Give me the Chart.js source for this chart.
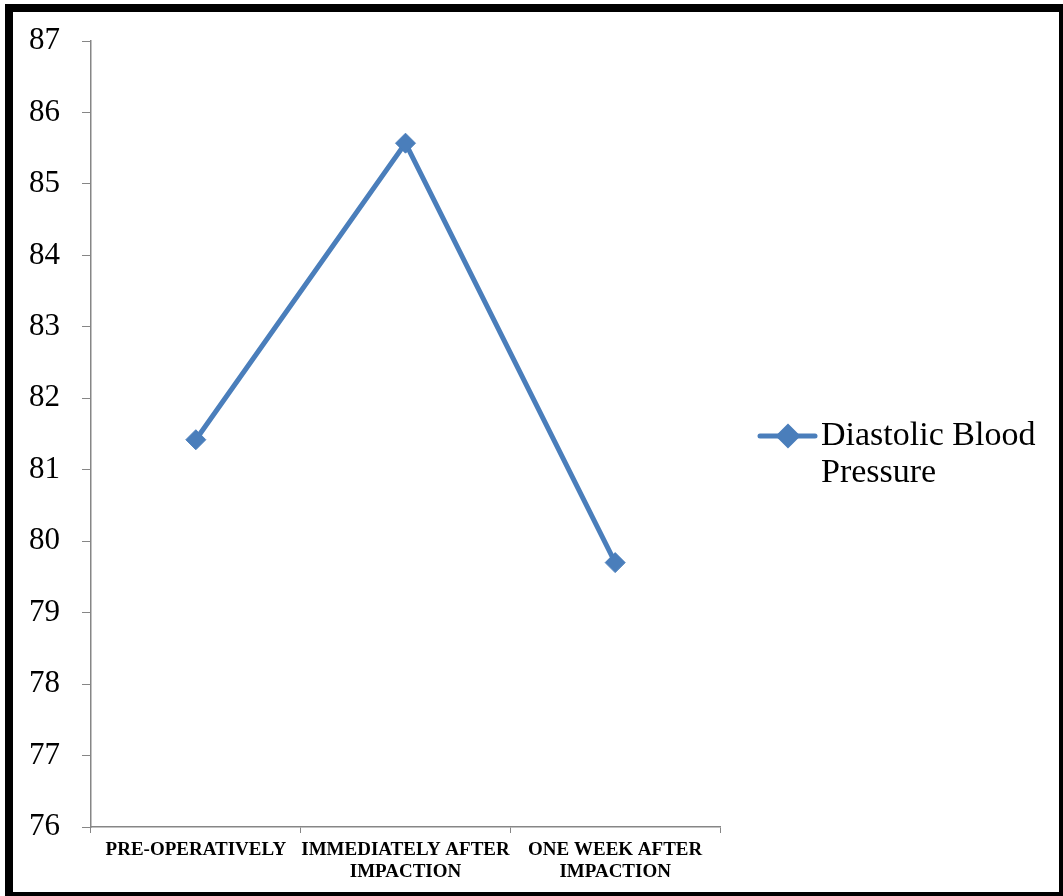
<!DOCTYPE html>
<html>
<head>
<meta charset="utf-8">
<script src="https://cdn.jsdelivr.net/npm/chart.js@4.4.1/dist/chart.umd.min.js"></script>
<style>
  html, body { margin: 0; padding: 0; background: #fff; }
  #wrap { position: relative; width: 1063px; height: 896px; overflow: hidden; }
  #frame { position: absolute; left: 5px; top: 4px; width: 1062px; height: 896px; border: 8px solid #000; box-sizing: border-box; pointer-events: none; }
  canvas { position: absolute; left: 0; top: 0; }
</style>
</head>
<body>
<div id="wrap">
  <canvas id="myChart" width="1063" height="896"></canvas>
  <div id="frame"></div>
</div>
<script>
// chart data
const categories = [
  'PRE-OPERATIVELY',
  ['IMMEDIATELY AFTER', 'IMPACTION'],
  ['ONE WEEK AFTER', 'IMPACTION']
];
const seriesName = 'Diastolic Blood Pressure';
const legendLines = ['Diastolic Blood', 'Pressure'];
const diastolic = [81.42, 85.57, 79.70];
const yMin = 76;
const yMax = 87;

const blue = '#4A7EBB';
const axisGrey = '#868686';
const serif = "'Liberation Serif', 'Times New Roman', serif";

// legend drawn by hand so the label can wrap like the original
const sideLegend = {
  id: 'sideLegend',
  afterDraw(chart) {
    const ctx = chart.ctx;
    const area = chart.chartArea;
    const x0 = area.right + 40;
    const y0 = (area.top + area.bottom) / 2 + 2;
    ctx.save();
    ctx.strokeStyle = blue;
    ctx.lineWidth = 5;
    ctx.lineCap = 'round';
    ctx.beginPath();
    ctx.moveTo(x0, y0);
    ctx.lineTo(x0 + 55, y0);
    ctx.stroke();
    ctx.fillStyle = blue;
    Chart.helpers.drawPoint(ctx, { pointStyle: 'rectRot', radius: 9, borderWidth: 1 }, x0 + 28, y0);
    ctx.fill();
    ctx.fillStyle = '#000';
    ctx.font = '34px ' + serif;
    ctx.textBaseline = 'middle';
    ctx.textAlign = 'left';
    legendLines.forEach((t, i) => ctx.fillText(t, x0 + 61, y0 + i * 37));
    ctx.restore();
  }
};

new Chart(document.getElementById('myChart'), {
  type: 'line',
  data: {
    labels: categories,
    datasets: [{
      label: seriesName,
      data: diastolic,
      borderColor: blue,
      backgroundColor: blue,
      borderWidth: 5,
      pointStyle: 'rectRot',
      pointRadius: 10,
      pointBorderWidth: 1,
      pointBackgroundColor: blue,
      pointBorderColor: blue,
      tension: 0
    }]
  },
  options: {
    responsive: false,
    animation: false,
    layout: { padding: { top: 41, right: 343, bottom: 0, left: 0 } },
    plugins: { legend: { display: false }, tooltip: { enabled: false } },
    scales: {
      x: {
        offset: true,
        grid: { offset: true, drawOnChartArea: false, drawTicks: true, tickLength: 6, color: axisGrey },
        border: { color: axisGrey, width: 1.5 },
        ticks: {
          color: '#000',
          padding: 6,
          maxRotation: 0,
          autoSkip: false,
          font: { family: serif, size: 19, weight: 'bold', lineHeight: 1.15 }
        },
        afterFit(scale) { scale.height = 69; }
      },
      y: {
        min: yMin,
        max: yMax,
        grid: { drawOnChartArea: false, drawTicks: true, tickLength: 9, color: axisGrey },
        border: { color: axisGrey, width: 1.5 },
        ticks: {
          stepSize: 1,
          color: '#000',
          padding: 22,
          font: { family: serif, size: 31 }
        },
        afterFit(scale) { scale.width = 91; }
      }
    }
  },
  plugins: [sideLegend]
});
</script>
</body>
</html>
